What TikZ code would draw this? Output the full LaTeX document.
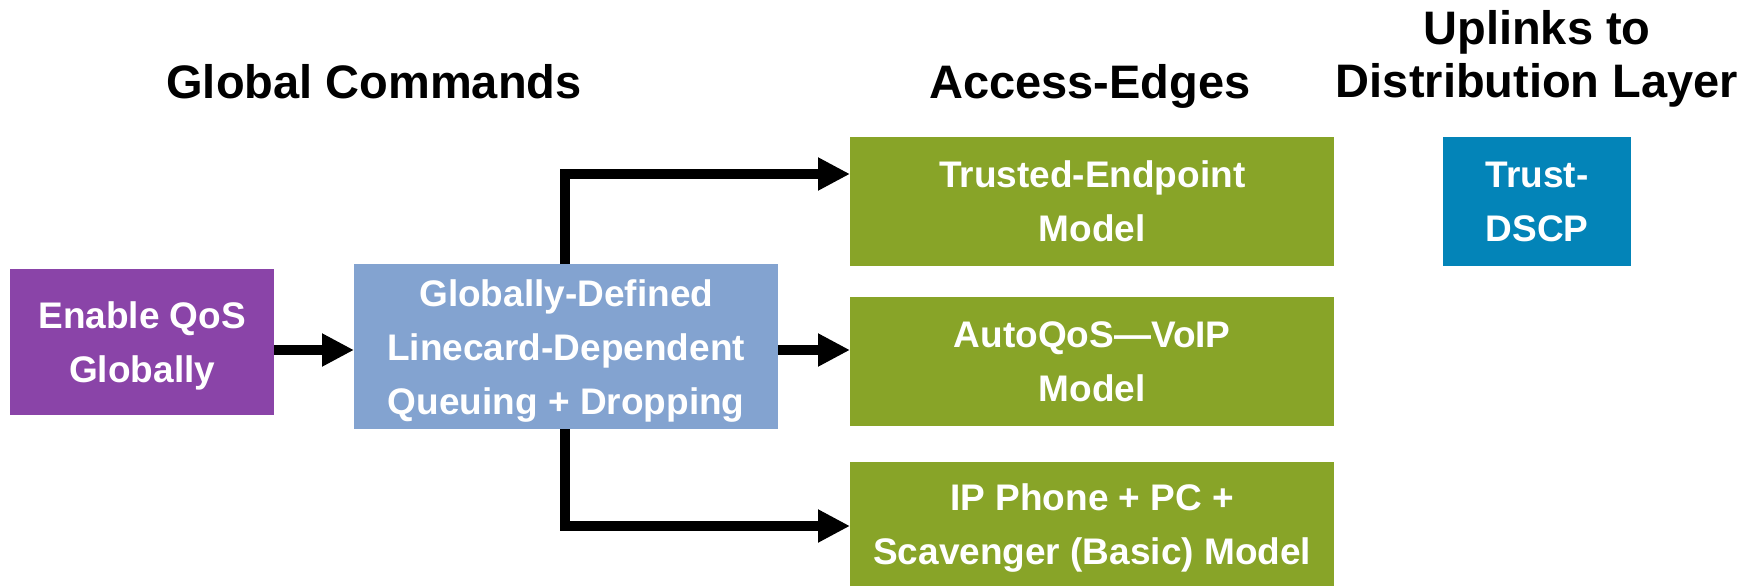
\documentclass[tikz,border=0pt]{standalone}
\usepackage{fontspec}
\setmainfont{Liberation Sans}
\usetikzlibrary{arrows.meta,calc}
\definecolor{qpurple}{HTML}{8A44A8}
\definecolor{qlblue}{HTML}{83A3D0}
\definecolor{qgreen}{HTML}{88A428}
\definecolor{qblue}{HTML}{0384B8}
\begin{document}
\begin{tikzpicture}[x=1pt,y=-1pt,
  box/.style={anchor=north west, inner sep=0pt, text=white,
    font=\fontsize{37}{54}\selectfont\bfseries, align=center},
  title/.style={font=\fontsize{47}{53}\selectfont\bfseries, align=center, inner sep=0pt},
  conn/.style={line width=10pt, -{Triangle[length=32pt,width=31pt]}}
]
\useasboundingbox (0,0) rectangle (1755,586);
\node[box, fill=qpurple, minimum width=264pt, minimum height=146pt, text depth=0pt] (p) at (10,269) {Enable QoS\\Globally};
\node[box, fill=qlblue, minimum width=424pt, minimum height=165pt, text depth=0pt] (b) at (354,264) {Globally-Defined\\Linecard-Dependent\\Queuing + Dropping};
\node[box, fill=qgreen, minimum width=484pt, minimum height=129pt] (g1) at (850,137) {Trusted-Endpoint\\Model};
\node[box, fill=qgreen, minimum width=484pt, minimum height=129pt] (g2) at (850,297) {AutoQoS—VoIP\\Model};
\node[box, fill=qgreen, minimum width=484pt, minimum height=124pt, text depth=0pt] (g3) at (850,462) {IP Phone + PC +\\Scavenger (Basic) Model};
\node[box, fill=qblue, minimum width=188pt, minimum height=129pt] (t) at (1443,137) {Trust-\\DSCP};
\node[title, anchor=base] (h1) at (374,98) {Global Commands};
\node[title, anchor=base] (h2) at (1090,98) {Access-Edges};
\node[title, anchor=center] (h3) at (1537,59) {Uplinks to\\Distribution Layer};
\coordinate (ytop) at (0,174);
\coordinate (ymid) at (0,350);
\coordinate (ybot) at (0,526);
\coordinate (xv) at (565,0);
\draw[conn] (p.east |- ymid) -- (b.west |- ymid);
\draw[conn] (b.east |- ymid) -- (g2.west |- ymid);
\draw[conn] (b.north -| xv) |- (g1.west |- ytop);
\draw[conn] (b.south -| xv) |- (g3.west |- ybot);
\end{tikzpicture}
\end{document}
